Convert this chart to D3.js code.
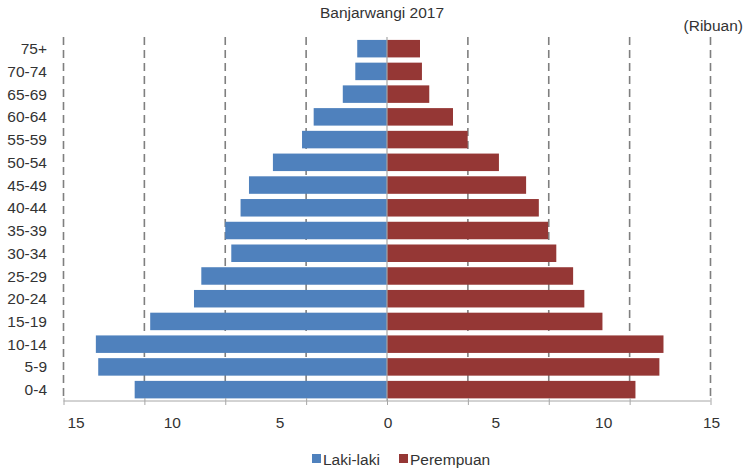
<!DOCTYPE html>
<html>
<head>
<meta charset="utf-8">
<script src="https://cdn.jsdelivr.net/npm/d3@7"></script>
<style>
  html, body { margin: 0; padding: 0; background: #fff; }
  text { font-family: "Liberation Sans", Arial, sans-serif; fill: #333; }
</style>
</head>
<body>
<svg id="chart" width="749" height="471"></svg>
<script>
// ---- data (ribuan / thousands) ----
const ageGroups = ["75+","70-74","65-69","60-64","55-59","50-54","45-49","40-44",
                   "35-39","30-34","25-29","20-24","15-19","10-14","5-9","0-4"];
const lakiLaki  = [1.38,1.47,2.05,3.40,3.94,5.29,6.40,6.79,7.50,7.22,8.61,8.95,10.98,13.50,13.39,11.70];
const perempuan = [1.53,1.62,1.96,3.06,3.74,5.19,6.45,7.04,7.47,7.85,8.63,9.15,9.99,12.82,12.63,11.52];
const tickLabels = [-15,-10,-5,0,5,10,15];
const gridValues = [-15,-11.25,-7.5,-3.75,0,3.75,7.5,11.25,15];
const seriesNames = ["Laki-laki","Perempuan"];
const colors = ["#4F81BD","#953735"];

const svg = d3.select("#chart");
const x = d3.scaleLinear().domain([-15, 15]).range([63.5, 710.5]);
const y = d3.scaleBand().domain(ageGroups).range([37.3, 401]).paddingInner(0.23).paddingOuter(0.115);

// title
svg.append("text").attr("x", 382).attr("y", 18).attr("text-anchor", "middle")
  .style("font-size", "15.5px").text("Banjarwangi 2017");
svg.append("text").attr("x", 743).attr("y", 31).attr("text-anchor", "end")
  .style("font-size", "15.5px").text("(Ribuan)");

// gridlines (dashed)
svg.append("g").selectAll("line").data(gridValues.filter(d => d !== 0)).join("line")
  .attr("x1", d => x(d)).attr("x2", d => x(d))
  .attr("y1", 37).attr("y2", 401)
  .attr("stroke", "#7f7f7f").attr("stroke-width", 1.6)
  .attr("stroke-dasharray", "8,5");

// bars
svg.append("g").selectAll("rect").data(ageGroups).join("rect")
  .attr("x", (d, i) => x(-lakiLaki[i]))
  .attr("width", (d, i) => x(0) - x(-lakiLaki[i]))
  .attr("y", d => y(d)).attr("height", y.bandwidth())
  .attr("fill", colors[0]);
svg.append("g").selectAll("rect").data(ageGroups).join("rect")
  .attr("x", x(0))
  .attr("width", (d, i) => x(perempuan[i]) - x(0))
  .attr("y", d => y(d)).attr("height", y.bandwidth())
  .attr("fill", colors[1]);

// zero line
svg.append("line").attr("x1", x(0)).attr("x2", x(0)).attr("y1", 37).attr("y2", 401)
  .attr("stroke", "#a6a6a6").attr("stroke-width", 1.2);

// category axis labels
const yAxis = svg.append("g").attr("transform", "translate(47,0)")
  .call(d3.axisLeft(y).tickSize(0).tickPadding(0));
yAxis.select(".domain").remove();
yAxis.selectAll("text").style("font-size", "15.5px").attr("dy", "0.36em")
  .style("font-family", "'Liberation Sans', Arial, sans-serif").attr("fill", "#333");

// bottom axis
const xAxis = svg.append("g").attr("transform", "translate(0,401)")
  .call(d3.axisBottom(x).tickValues(gridValues).tickSize(4).tickFormat(""));
xAxis.select(".domain").attr("stroke", "#a6a6a6").attr("d", `M${x(-15)},0H${x(15)}`);
xAxis.selectAll(".tick line").attr("stroke", "#a6a6a6").attr("y1", -3).attr("y2", 4);

svg.append("g").selectAll("text").data(tickLabels).join("text")
  .attr("x", d => Math.max(x(d), 75) + 1)
  .attr("y", 428)
  .attr("text-anchor", "middle")
  .style("font-size", "15.5px")
  .text(d => Math.abs(d));

// legend
const legend = svg.append("g");
const legX = [312, 399];
seriesNames.forEach((name, i) => {
  legend.append("rect").attr("x", legX[i]).attr("y", 454).attr("width", 9).attr("height", 9)
    .attr("fill", colors[i]);
  legend.append("text").attr("x", legX[i] + 11).attr("y", 464.5)
    .style("font-size", "15.5px").text(name);
});
</script>
</body>
</html>
